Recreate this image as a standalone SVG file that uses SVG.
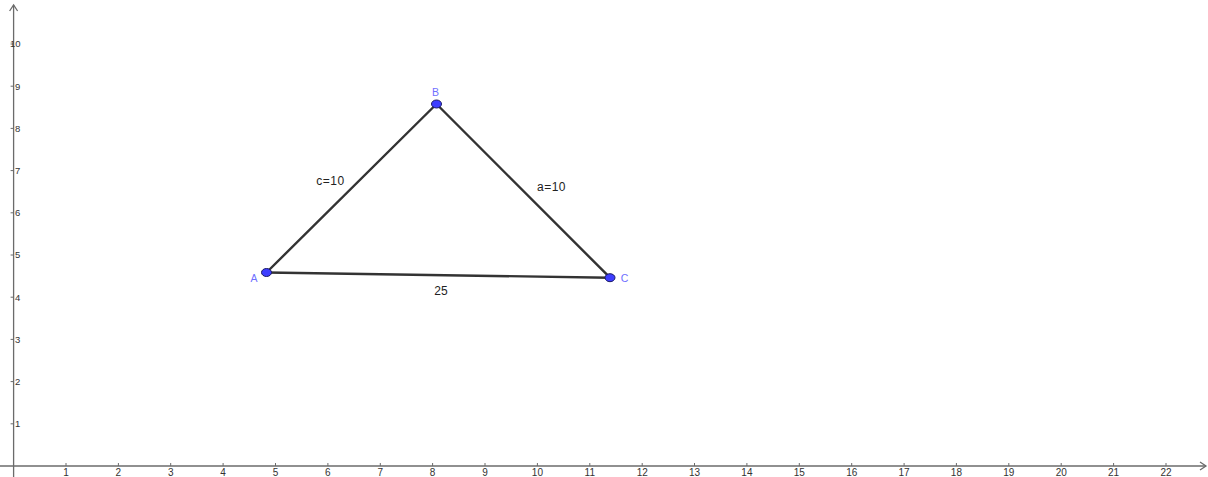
<svg xmlns="http://www.w3.org/2000/svg" width="1208" height="477" viewBox="0 0 1208 477">
<style>
.ax{stroke:#6b6b6b;stroke-width:1.3;fill:none}
.tk{stroke:#6b6b6b;stroke-width:1}
.tl{font-family:"Liberation Sans",Arial,sans-serif;font-size:10px;fill:#333}
.seg{stroke:#333;stroke-width:2.4;fill:none;stroke-linecap:round}
.pt{fill:#3d3dff;stroke:#1a1a66;stroke-width:1}
.pl{font-family:"Liberation Sans",Arial,sans-serif;font-size:10.5px;fill:#6f6fff}
.sl{font-family:"Liberation Sans",Arial,sans-serif;font-size:12px;fill:#222}
</style>
<rect width="1208" height="477" fill="#fff"/>
<g id="axes">
<line class="ax" x1="13.6" y1="477" x2="13.6" y2="5"/>
<path class="ax" d="M9.6 11 L13.6 5 L17.6 11"/>
<line class="ax" x1="0" y1="466" x2="1206" y2="466"/>
<path class="ax" d="M1200 462 L1206 466 L1200 470"/>
<g id="xticks">
<path class="tk" d="M66 463V466M118.4 463V466M170.7 463V466M223.1 463V466M275.5 463V466M327.9 463V466M380.3 463V466M432.6 463V466M485 463V466M537.4 463V466M589.8 463V466M642.2 463V466M694.5 463V466M746.9 463V466M799.3 463V466M851.7 463V466M904.1 463V466M956.4 463V466M1008.8 463V466M1061.2 463V466M1113.6 463V466M1166 463V466"/>
<g class="tl" text-anchor="middle">
<text x="66" y="476">1</text><text x="118.4" y="476">2</text><text x="170.7" y="476">3</text><text x="223.1" y="476">4</text><text x="275.5" y="476">5</text><text x="327.9" y="476">6</text><text x="380.3" y="476">7</text><text x="432.6" y="476">8</text><text x="485" y="476">9</text><text x="537.4" y="476">10</text><text x="589.8" y="476">11</text><text x="642.2" y="476">12</text><text x="694.5" y="476">13</text><text x="746.9" y="476">14</text><text x="799.3" y="476">15</text><text x="851.7" y="476">16</text><text x="904.1" y="476">17</text><text x="956.4" y="476">18</text><text x="1008.8" y="476">19</text><text x="1061.2" y="476">20</text><text x="1113.6" y="476">21</text><text x="1166" y="476">22</text>
</g>
</g>
<g id="yticks">
<path class="tk" d="M10.6 423.8H13.6M10.6 381.6H13.6M10.6 339.4H13.6M10.6 297.2H13.6M10.6 255H13.6M10.6 212.8H13.6M10.6 170.6H13.6M10.6 128.4H13.6M10.6 86.2H13.6M10.6 44H13.6"/>
<g class="tl" style="font-size:9.5px">
<text x="15" y="427.2">1</text><text x="15" y="385">2</text><text x="15" y="342.8">3</text><text x="15" y="300.6">4</text><text x="15" y="258.4">5</text><text x="15" y="216.2">6</text><text x="15" y="174">7</text><text x="15" y="131.8">8</text><text x="15" y="89.6">9</text><text x="10" y="47.4">10</text>
</g>
</g>
</g>
<g id="connectors">
<line class="seg" x1="266.5" y1="272.5" x2="436.5" y2="104"/>
<line class="seg" x1="436.5" y1="104" x2="610" y2="277.7"/>
<line class="seg" x1="266.5" y1="272.5" x2="610" y2="277.7"/>
<text class="sl" x="330.5" y="185" text-anchor="middle" letter-spacing="0.5">c=10</text>
<text class="sl" x="551.5" y="191" text-anchor="middle" letter-spacing="0.5">a=10</text>
<text class="sl" x="441" y="294.5" text-anchor="middle">25</text>
</g>
<g id="A"><ellipse class="pt" cx="266.5" cy="272.5" rx="5" ry="4"/><text class="pl" x="254" y="282" text-anchor="middle">A</text></g>
<g id="B"><ellipse class="pt" cx="436.5" cy="104" rx="5" ry="4"/><text class="pl" x="435.5" y="96" text-anchor="middle">B</text></g>
<g id="C"><ellipse class="pt" cx="610" cy="277.7" rx="5" ry="4"/><text class="pl" x="624.5" y="281.5" text-anchor="middle">C</text></g>
</svg>
